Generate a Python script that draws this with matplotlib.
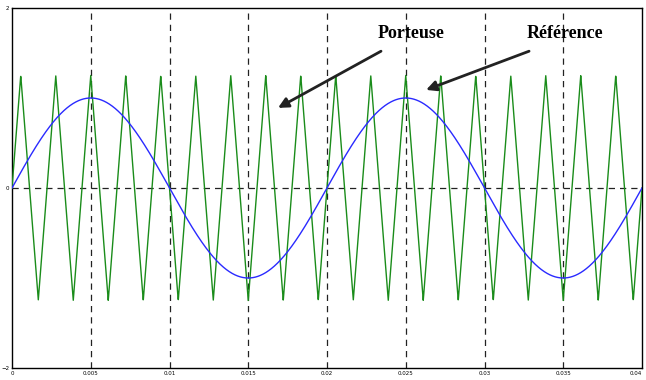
import numpy as np
import matplotlib
matplotlib.use('Agg')
import matplotlib.pyplot as plt

# signal parameters
f_ref = 50.0          # reference sine frequency (Hz)
amp_ref = 1.0
f_car = 450.0         # carrier (triangle) frequency (Hz)
amp_car = 1.25
t_end = 0.04

xticks = [0, 0.005, 0.01, 0.015, 0.02, 0.025, 0.03, 0.035, 0.04]
xtick_labels = ['0', '0.005', '0.01', '0.015', '0.02', '0.025', '0.03', '0.035', '0.04']
yticks = [-2, 0, 2]

t = np.linspace(0, t_end, 4001)
ref = amp_ref * np.sin(2 * np.pi * f_ref * t)
car = amp_car * (2 / np.pi) * np.arcsin(np.sin(2 * np.pi * f_car * t))

fig = plt.figure(figsize=(6.46, 3.8), dpi=100)
ax = fig.add_axes([12/646, 12/380, 630/646, 360/380])

ax.plot(t, car, color='#1a8c1a', lw=1.0, zorder=3)
ax.plot(t, ref, color='#2a2aff', lw=1.0, zorder=4)

# dashed grid
for x in xticks[1:-1]:
    ax.axvline(x, color='#222222', ls=(0, (5, 4)), lw=0.9, zorder=2)
ax.axhline(0, color='#222222', ls=(0, (5, 4)), lw=0.9, zorder=2)

ax.set_xlim(0, t_end)
ax.set_ylim(-2, 2)
ax.set_xticks(xticks)
ax.set_xticklabels(xtick_labels)
ax.set_yticks(yticks)
ax.tick_params(labelsize=4, length=0, pad=2)
ax.get_xticklabels()[-1].set_ha('right')
for s in ax.spines.values():
    s.set_linewidth(1.0)

txt = dict(fontsize=13, fontweight='bold', family=['Liberation Serif', 'DejaVu Serif'],
           ha='center', va='center')
arrow = dict(arrowstyle='-|>,head_length=0.6,head_width=0.3', lw=2.0, color='#222222',
             shrinkA=0, shrinkB=0)

ax.text(0.02533, 1.72, 'Porteuse', **txt)
ax.annotate('', xy=(0.01689, 0.89), xytext=(0.02343, 1.52), arrowprops=arrow)
ax.text(0.0351, 1.72, 'Référence', **txt)
ax.annotate('', xy=(0.02629, 1.09), xytext=(0.03283, 1.52), arrowprops=arrow)

plt.savefig('out.png', dpi=100)
